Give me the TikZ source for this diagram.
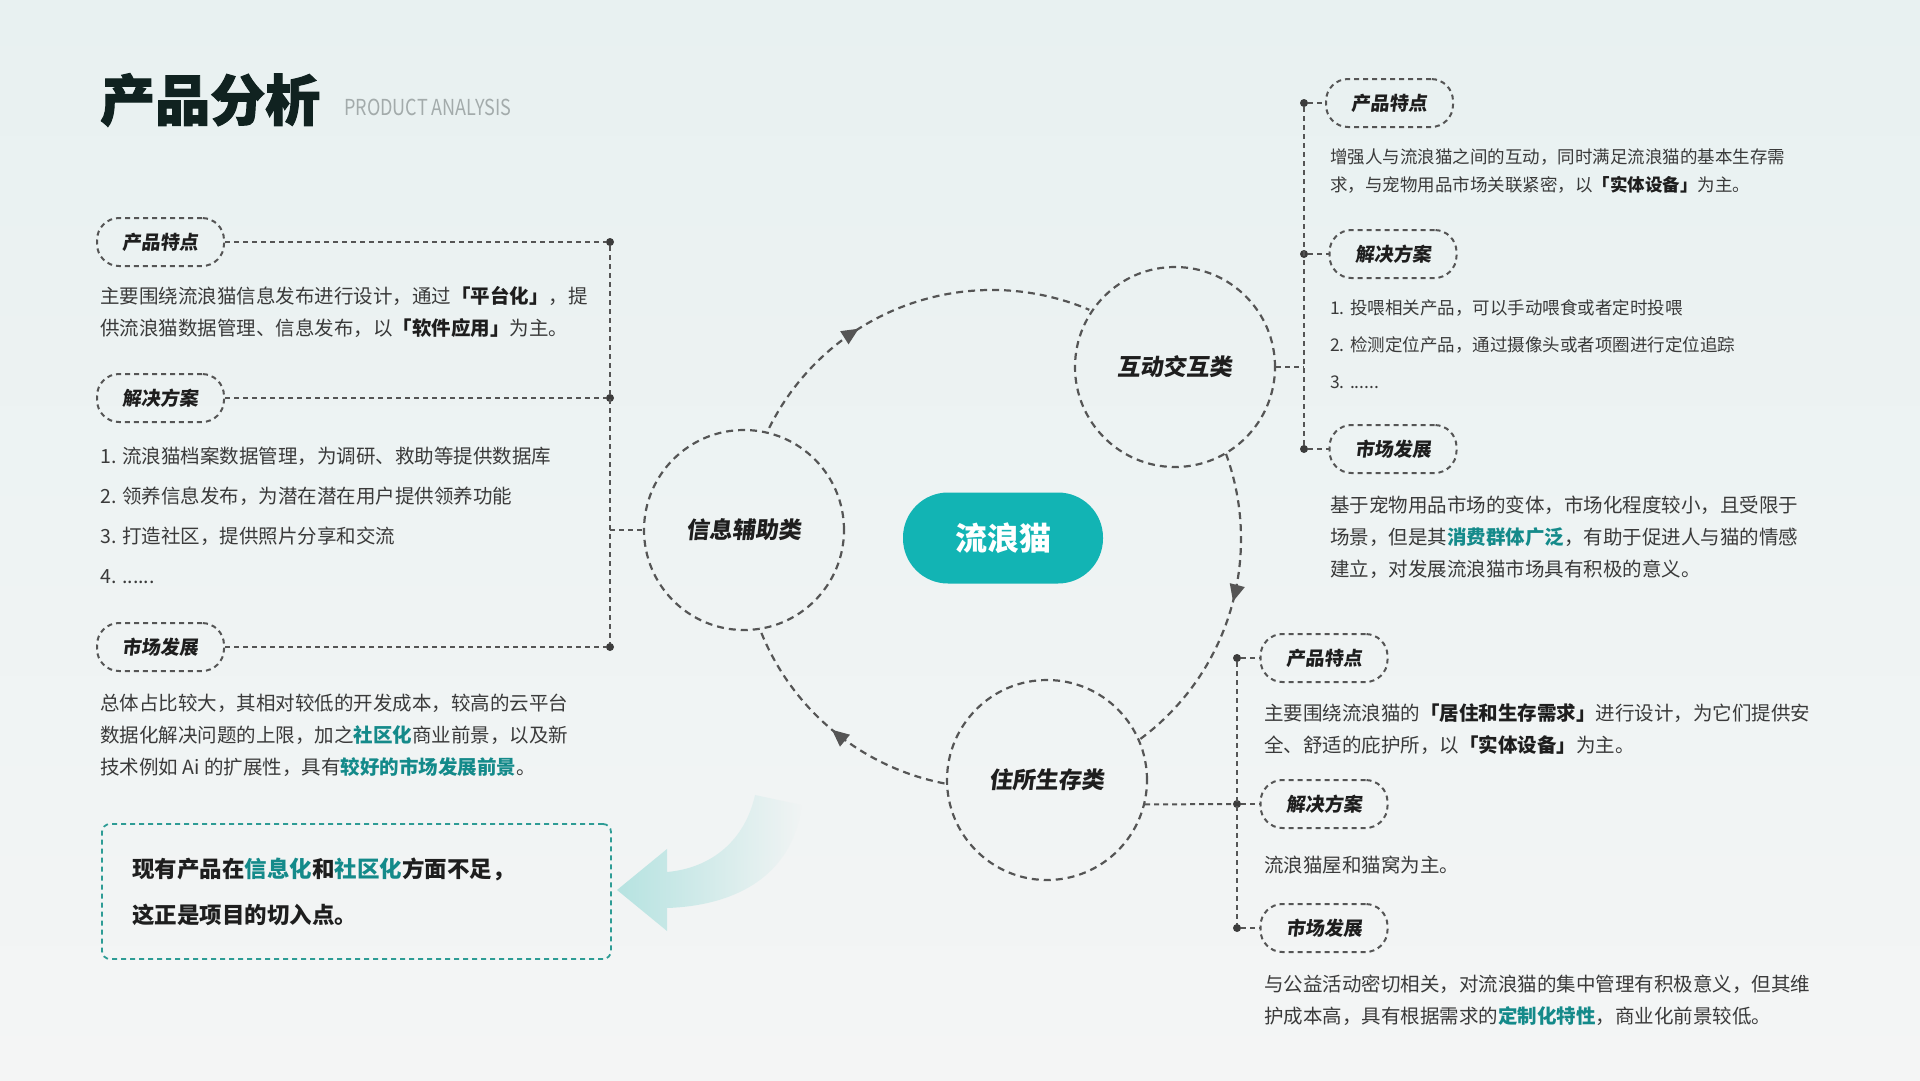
\documentclass[tikz,border=0pt]{standalone}
\usepackage{fontspec}
\setmainfont{Noto Sans CJK SC}
\newfontfamily\tagfont[FakeSlant=0.12]{Noto Sans CJK SC}
\newfontfamily\titlefont[FakeBold=1.8]{Noto Sans CJK SC}
\usepackage{xcolor}
\usepackage{tikz}
\usetikzlibrary{arrows.meta,decorations.markings,fadings}

\definecolor{ink}{HTML}{3A3A3A}
\definecolor{deep}{HTML}{1E1E1E}
\definecolor{titleink}{HTML}{102220}
\definecolor{subgray}{HTML}{A3ABAB}
\definecolor{catteal}{HTML}{12B4B4}
\definecolor{hitext}{HTML}{148A8A}
\definecolor{linegray}{HTML}{555555}
\definecolor{boxteal}{HTML}{2E9C95}
\definecolor{arrowteal}{HTML}{B6E3E1}
\definecolor{bgtop}{HTML}{E8F1F1}
\definecolor{bgbot}{HTML}{F4F5F5}

\newcommand{\hlt}[1]{{\bfseries\color{hitext}#1}}
\newcommand{\bld}[1]{{\bfseries\color{deep}#1}}

\tikzset{
  tagbox/.style={draw=linegray, line width=2pt, dash pattern=on 5pt off 4pt,
    rounded corners=22pt, minimum width=127pt, minimum height=48pt, inner sep=0pt,
    font=\tagfont\bfseries\fontsize{19}{19}\selectfont, text=deep},
  sortring/.style={circle, draw=linegray, line width=2.2pt, dash pattern=on 7pt off 5pt,
    minimum size=200pt, inner sep=0pt, font=\tagfont\bfseries\fontsize{23}{23}\selectfont, text=deep},
  hubpill/.style={fill=catteal, rounded corners=45pt, minimum width=200pt, minimum height=91pt,
    text=white, font=\bfseries\fontsize{32}{32}\selectfont},
  wire/.style={draw=linegray, line width=2pt, dash pattern=on 5pt off 4pt},
  orbit/.style={draw=linegray, color=linegray, line width=2.2pt, dash pattern=on 7pt off 5pt},
  flow/.style={orbit, decoration={markings, mark=at position #1 with {\arrow{Triangle[length=17pt,width=15pt]}}},
    postaction={decorate}},
  joint/.style={circle, fill=linegray!70!black, inner sep=0pt, minimum size=8pt},
  body/.style={anchor=west, align=left, inner sep=0pt, text=ink, font=\fontsize{19.5}{32}\selectfont},
  bodysmall/.style={body, font=\fontsize{17.5}{28}\selectfont},
}

\begin{document}
\begin{tikzpicture}[x=1pt, y=1pt]
 % background
 \shade[top color=bgtop, bottom color=bgbot] (0,0) rectangle (1920,-1080);
 \useasboundingbox (0,0) rectangle (1920,-1080);

 % title
 \node[anchor=west, inner sep=0pt, font=\titlefont\bfseries\fontsize{55}{55}\selectfont, text=titleink] (title) at (100,-100) {产品分析};
 \node[anchor=west, inner sep=0pt, font=\fontsize{22}{22}\selectfont, text=subgray] (subtitle) at (344,-107) {\scalebox{0.82}[1]{PRODUCT ANALYSIS}};

 % centre and the three classes
 \coordinate (hub) at (992,-539);
 \node[hubpill] (cat) at (1003,-538) {流浪猫};
 \node[sortring] (info) at (744,-530) {信息辅助类};
 \node[sortring] (inter) at (1175,-367) {互动交互类};
 \node[sortring] (house) at (1047,-780) {住所生存类};

 \draw[flow=0.36] ([shift={(153.5:249pt)}]hub) arc[start angle=153.5, end angle=67, radius=249pt];
 \draw[flow=0.47] ([shift={(20:249pt)}]hub) arc[start angle=20, end angle=-53.5, radius=249pt];
 \draw[flow=0.5] ([shift={(-101:249pt)}]hub) arc[start angle=-101, end angle=-159, radius=249pt];

 % left column: info
 \node[tagbox] (infoTag1) at (160.5,-242) {产品特点};
 \node[tagbox] (infoTag2) at (160.5,-398) {解决方案};
 \node[tagbox] (infoTag3) at (160.5,-647) {市场发展};
 \node[joint] (infoDot1) at (610,-242) {};
 \node[joint] (infoDot2) at (610,-398) {};
 \node[joint] (infoDot3) at (610,-647) {};
 \coordinate (infoJoin) at (610,-530);
 \draw[wire] (infoTag1) -- (infoDot1);
 \draw[wire] (infoTag2) -- (infoDot2);
 \draw[wire] (infoTag3) -- (infoDot3);
 \draw[wire] (infoDot1) -- (infoDot3);
 \draw[wire] (infoJoin) -- (info);

 \node[body] (infoFeat) at (100,-312) {主要围绕流浪猫信息发布进行设计，通过\bld{「平台化」}，提\\供流浪猫数据管理、信息发布，以\bld{「软件应用」}为主。};
 \node[body, font=\fontsize{19.5}{40}\selectfont] (infoPlan) at (100,-515) {1. 流浪猫档案数据管理，为调研、救助等提供数据库\\2. 领养信息发布，为潜在潜在用户提供领养功能\\3. 打造社区，提供照片分享和交流\\4. ......};
 \node[body] (infoMkt) at (100,-735) {总体占比较大，其相对较低的开发成本，较高的云平台\\数据化解决问题的上限，加之\hlt{社区化}商业前景，以及新\\技术例如 Ai 的扩展性，具有\hlt{较好的市场发展前景}。};

 % summary box and arrow
 \node[draw=boxteal, line width=1.8pt, dash pattern=on 5pt off 4pt, rounded corners=8pt,
   minimum width=509pt, minimum height=135pt, text width=449pt, inner xsep=30pt, align=left,
   font=\bfseries\fontsize{22.5}{46}\selectfont, text=deep] (gap) at (356.5,-891.5)
   {现有产品在\hlt{信息化}和\hlt{社区化}方面不足，\\这正是项目的切入点。};
 \fill[arrowteal, path fading=east] (617,-890) -- (667,-849) -- (667,-872)
   .. controls (712,-868) and (745,-840) .. (755,-795) -- (802,-805)
   .. controls (792,-880) and (730,-906) .. (667,-908) -- (667,-931) -- cycle;

 % right column: interaction
 \node[tagbox] (interTag1) at (1389.5,-103) {产品特点};
 \node[tagbox] (interTag2) at (1393,-254) {解决方案};
 \node[tagbox] (interTag3) at (1393,-449) {市场发展};
 \node[joint] (interDot1) at (1304,-103) {};
 \node[joint] (interDot2) at (1304,-254) {};
 \node[joint] (interDot3) at (1304,-449) {};
 \coordinate (interJoin) at (1304,-367);
 \draw[wire] (interDot1) -- (interTag1);
 \draw[wire] (interDot2) -- (interTag2);
 \draw[wire] (interDot3) -- (interTag3);
 \draw[wire] (interDot1) -- (interDot3);
 \draw[wire] (inter) -- (interJoin);

 \node[bodysmall] (interFeat) at (1330,-171) {增强人与流浪猫之间的互动，同时满足流浪猫的基本生存需\\求，与宠物用品市场关联紧密，以\bld{「实体设备」}为主。};
 \node[bodysmall, font=\fontsize{17.5}{37}\selectfont] (interPlan) at (1330,-344) {1. 投喂相关产品，可以手动喂食或者定时投喂\\2. 检测定位产品，通过摄像头或者项圈进行定位追踪\\3. ......};
 \node[body] (interMkt) at (1330,-537.5) {基于宠物用品市场的变体，市场化程度较小，且受限于\\场景，但是其\hlt{消费群体广泛}，有助于促进人与猫的情感\\建立，对发展流浪猫市场具有积极的意义。};

 % right column: shelter
 \node[tagbox] (houseTag1) at (1324,-658) {产品特点};
 \node[tagbox] (houseTag2) at (1324,-804) {解决方案};
 \node[tagbox] (houseTag3) at (1324,-928) {市场发展};
 \node[joint] (houseDot1) at (1237,-658) {};
 \node[joint] (houseDot2) at (1237,-804) {};
 \node[joint] (houseDot3) at (1237,-928) {};
 \draw[wire] (houseDot1) -- (houseTag1);
 \draw[wire] (houseDot2) -- (houseTag2);
 \draw[wire] (houseDot3) -- (houseTag3);
 \draw[wire] (houseDot1) -- (houseDot3);
 \draw[wire] (house.-14) -- (houseDot2);

 \node[body] (houseFeat) at (1264,-729) {主要围绕流浪猫的\bld{「居住和生存需求」}进行设计，为它们提供安\\全、舒适的庇护所，以\bld{「实体设备」}为主。};
 \node[body] (housePlan) at (1264,-865) {流浪猫屋和猫窝为主。};
 \node[body] (houseMkt) at (1264,-1000.5) {与公益活动密切相关，对流浪猫的集中管理有积极意义，但其维\\护成本高，具有根据需求的\hlt{定制化特性}，商业化前景较低。};
\end{tikzpicture}
\end{document}
